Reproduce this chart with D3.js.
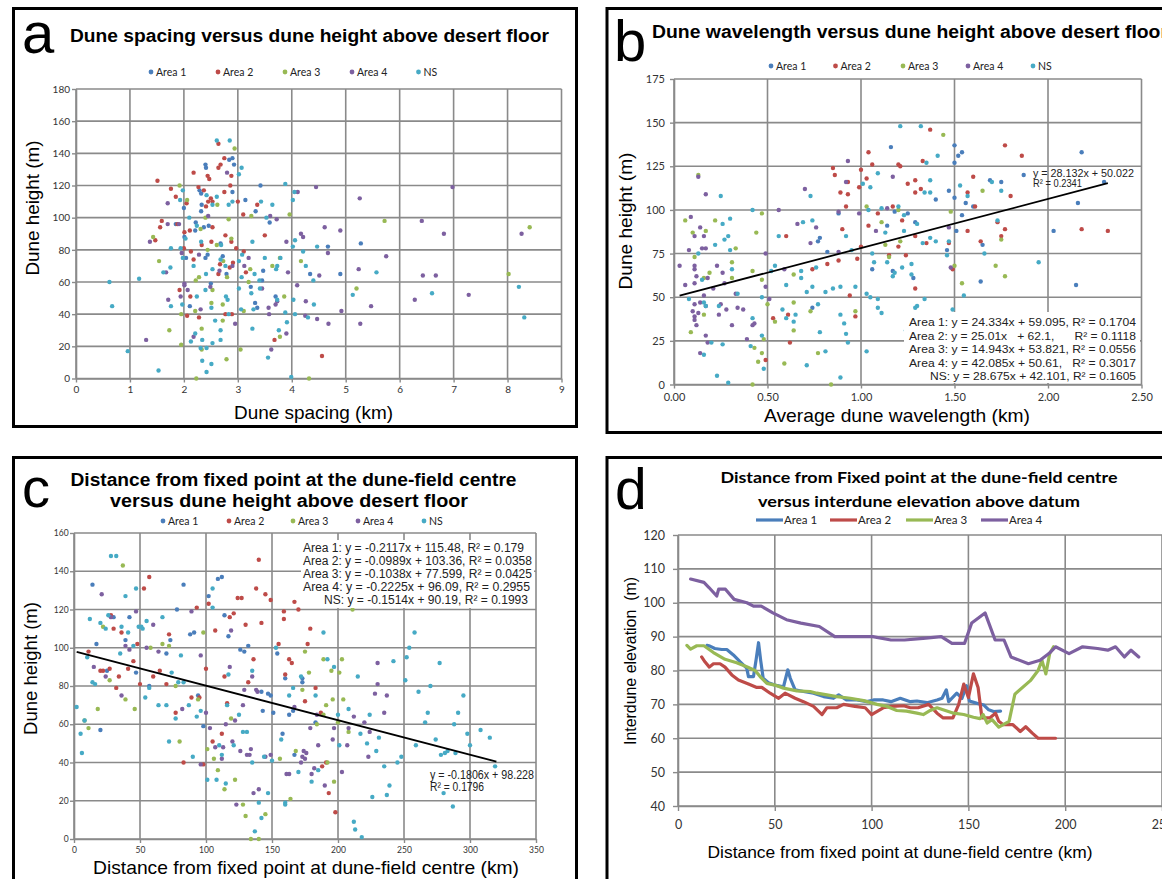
<!DOCTYPE html>
<html>
<head>
<meta charset="utf-8">
<script src="https://cdn.jsdelivr.net/npm/d3@7"></script>
<style>
body { margin: 0; background: #fff; }
svg { display: block; }
</style>
</head>
<body>
<svg id="fig" width="1162" height="879"></svg>
<script>
// series names + colours (Excel 2010 palette)
var seriesNames = ["Area 1", "Area 2", "Area 3", "Area 4", "NS"];
var seriesColors = ["#4a7ebb", "#be4b48", "#98b954", "#7d60a0", "#46aac5"];

// ---- panel a : dune spacing (km) vs dune height (m)
var aArea1 = [[2.90,137],[2.84,136],[2.40,133],[2.41,131],[2.93,133],[3.42,120],[2.29,117],[2.90,116],[2.32,115],[3.14,111],[2.33,108],[2.00,106],[3.33,104],[2.32,104],[1.85,96],[2.22,97],[2.01,88],[2.21,92],[2.37,94],[2.46,95],[2.44,77],[2.40,75],[2.04,75],[2.68,84],[2.72,76],[2.79,65],[3.47,67],[2.50,59],[2.11,45],[4.67,82],[5.28,84],[4.34,65],[4.90,65],[3.45,61],[3.24,57],[3.70,51],[3.32,47],[3.36,44],[3.59,97]];
var aArea2 = [[2.64,146],[2.75,137],[2.68,133],[2.64,131],[2.18,128],[2.44,126],[2.88,126],[2.47,124],[1.51,123],[2.86,120],[2.27,119],[1.76,118],[2.37,117],[2.75,116],[1.85,113],[2.50,112],[2.53,110],[2.45,110],[3.00,110],[2.05,109],[3.36,108],[2.41,107],[1.59,98],[1.56,94],[1.88,96],[1.47,86],[2.01,91],[2.11,92],[2.53,94],[3.10,102],[3.50,89],[2.00,81],[2.13,79],[2.33,83],[2.51,85],[2.77,89],[2.88,85],[2.97,81],[3.11,79],[2.67,71],[2.85,69],[2.91,72],[3.15,66],[2.64,65],[2.18,74],[1.92,55],[2.12,51],[2.06,39],[2.28,38],[2.77,40],[2.89,40],[3.68,24],[4.56,14]];
var aArea3 = [[2.94,143],[1.92,120],[2.06,111],[2.62,108],[1.43,88],[2.31,93],[3.25,101],[3.96,102],[5.72,98],[8.41,94],[2.44,80],[2.61,83],[2.88,87],[3.23,68],[2.28,63],[2.80,63],[3.64,70],[3.78,75],[3.20,60],[3.86,51],[3.11,42],[4.17,73],[5.20,56],[8.02,65],[3.78,26],[3.05,18],[2.79,12],[4.32,0],[2.23,0],[1.73,30],[1.95,21],[1.54,73],[1.95,40],[2.22,61],[2.21,42],[2.33,31],[2.33,18],[2.53,55],[2.51,47],[2.72,36],[2.72,46],[2.40,100],[2.83,99],[2.73,73]];
var aArea4 = [[2.80,128],[4.45,119],[6.98,119],[4.11,116],[5.26,112],[1.70,109],[1.70,96],[1.91,96],[1.37,85],[3.60,101],[3.72,99],[6.41,98],[6.82,90],[8.26,90],[4.90,92],[4.61,94],[4.17,90],[4.21,88],[3.90,85],[4.67,78],[5.75,76],[1.96,78],[2.28,77],[3.20,75],[2.90,70],[3.12,70],[2.66,67],[3.93,66],[4.10,58],[3.45,56],[4.26,48],[3.70,46],[3.73,48],[3.57,44],[3.58,40],[4.25,39],[4.47,37],[4.68,34],[4.51,64],[5.24,68],[5.47,45],[4.92,42],[5.27,34],[6.28,49],[6.43,64],[6.67,64],[7.28,52],[3.62,18],[3.90,28],[2.95,34],[1.30,24],[1.67,66],[1.71,49],[1.94,51],[2.01,59],[2.01,58],[2.07,55],[2.31,43],[2.18,26],[2.49,57],[2.45,101]];
var aNS = [[2.61,148],[2.85,148],[3.07,131],[3.02,127],[3.88,121],[1.98,117],[4.05,116],[2.42,114],[2.61,113],[1.93,111],[4.02,111],[2.90,110],[3.43,110],[2.53,108],[2.83,108],[3.64,108],[2.24,95],[2.10,100],[3.53,100],[2.03,87],[4.06,86],[3.27,85],[4.47,82],[4.02,82],[4.21,79],[1.94,81],[1.76,81],[1.98,75],[2.32,85],[2.69,83],[3.08,77],[2.68,74],[2.77,70],[3.02,73],[3.31,65],[2.53,68],[2.41,65],[3.73,70],[3.71,68],[3.79,75],[3.50,75],[3.40,61],[3.07,63],[3.41,56],[3.25,53],[3.73,49],[4.03,49],[4.41,46],[3.29,43],[3.06,43],[3.88,41],[4.06,40],[4.30,38],[3.91,35],[4.40,61],[4.26,70],[5.57,66],[5.13,52],[6.60,53],[8.21,57],[8.31,38],[3.56,13],[3.27,31],[3.76,30],[3.99,1],[0.62,60],[0.67,45],[1.17,62],[0.96,17],[1.53,5],[1.76,45],[1.75,69],[1.62,66],[1.97,46],[2.18,70],[2.24,51],[2.13,23],[2.21,28],[2.34,24],[2.31,19],[2.34,11],[2.42,19],[2.42,4],[2.51,9],[2.53,22],[2.40,55],[2.51,44],[2.58,36],[2.68,30],[2.68,24],[2.83,40],[2.81,49],[2.78,51],[3.02,56]];
var aXTicks = [0,1,2,3,4,5,6,7,8,9];
var aYTicks = [0,20,40,60,80,100,120,140,160,180];

// ---- panel b : average dune wavelength (km) vs dune height (m)
var bArea1 = [[1.16,136],[1.18,99],[1.25,98],[0.88,98],[1.40,106],[1.50,137],[1.52,131],[1.54,133],[1.50,127],[1.47,111],[1.50,107],[1.56,104],[1.60,102],[1.54,97],[1.69,117],[1.75,116],[1.87,120],[2.18,133],[2.30,116],[2.16,104],[0.77,82],[0.78,84],[0.74,44],[0.82,76],[1.06,66],[1.14,91],[1.17,65],[1.28,61],[1.29,93],[1.46,77],[1.51,88],[1.65,80],[1.64,59],[2.03,88],[2.15,57]];
var bArea2 = [[0.85,124],[0.86,120],[0.93,116],[0.89,110],[0.93,109],[0.92,102],[1.00,123],[1.04,133],[1.06,126],[1.03,118],[0.99,113],[1.20,126],[1.21,125],[1.37,146],[1.33,128],[1.29,117],[1.25,115],[1.29,110],[1.32,112],[1.09,98],[1.17,102],[1.57,110],[1.60,119],[1.61,102],[1.80,108],[1.77,137],[1.86,131],[0.49,14],[0.53,38],[0.60,85],[0.61,40],[0.62,24],[0.74,66],[0.82,69],[0.88,71],[0.90,89],[0.94,51],[0.97,39],[1.00,79],[0.98,72],[1.04,91],[1.15,74],[1.20,79],[1.22,94],[1.24,74],[1.29,55],[1.29,85],[1.35,81],[1.47,81],[1.49,66],[1.57,88],[1.64,82],[1.73,93],[1.75,85],[1.77,89],[2.18,89],[2.32,88]];
var bArea3 = [[0.13,120],[0.47,98],[1.44,143],[1.03,102],[1.20,100],[1.48,99],[1.65,111],[0.06,94],[0.09,30],[0.10,87],[0.11,73],[0.17,88],[0.16,40],[0.16,61],[0.19,64],[0.22,94],[0.31,70],[0.31,61],[0.33,78],[0.42,65],[0.44,87],[0.43,21],[0.42,0],[0.47,18],[0.45,13],[0.48,26],[0.47,60],[0.50,46],[0.54,36],[0.59,12],[0.64,63],[0.64,47],[0.64,31],[0.73,42],[0.77,18],[0.84,0],[0.97,42],[1.11,93],[1.13,80],[1.15,73],[1.21,82],[1.50,68],[1.54,58],[1.72,68],[1.75,83],[1.77,62]];
var bArea4 = [[0.13,119],[0.17,109],[0.70,112],[0.56,100],[0.93,128],[0.92,116],[0.88,99],[1.17,119],[1.14,101],[0.99,98],[0.03,68],[0.06,57],[0.09,96],[0.08,77],[0.11,85],[0.11,68],[0.11,66],[0.12,62],[0.11,58],[0.11,46],[0.10,42],[0.11,39],[0.11,37],[0.12,34],[0.13,41],[0.14,90],[0.15,78],[0.17,78],[0.16,85],[0.14,47],[0.16,51],[0.14,18],[0.17,28],[0.18,24],[0.17,45],[0.18,61],[0.21,55],[0.23,68],[0.26,64],[0.25,46],[0.24,40],[0.28,43],[0.27,58],[0.31,34],[0.33,52],[0.34,44],[0.37,43],[0.39,26],[0.42,34],[0.43,35],[0.49,75],[0.49,56],[0.51,49],[0.59,66],[0.66,92],[0.73,81],[0.76,90],[0.88,76],[1.08,88],[1.47,90],[1.48,67]];
var bNS = [[0.25,108],[0.73,108],[0.42,100],[1.01,115],[1.05,113],[1.09,121],[1.21,148],[1.32,148],[1.41,131],[1.35,127],[1.37,117],[1.34,110],[1.37,110],[1.04,100],[1.11,101],[1.20,102],[1.23,97],[1.53,114],[1.57,108],[1.70,116],[1.75,111],[0.08,49],[0.13,75],[0.16,17],[0.16,47],[0.17,45],[0.20,24],[0.15,60],[0.22,80],[0.26,92],[0.27,83],[0.24,45],[0.26,23],[0.23,5],[0.29,1],[0.31,66],[0.29,85],[0.30,77],[0.30,95],[0.34,52],[0.41,22],[0.42,38],[0.47,50],[0.47,28],[0.48,9],[0.52,65],[0.54,68],[0.56,85],[0.58,43],[0.60,57],[0.60,38],[0.69,93],[0.68,65],[0.68,61],[0.71,53],[0.65,40],[0.64,36],[0.74,94],[0.76,67],[0.77,46],[0.74,56],[0.71,11],[0.78,30],[0.81,19],[0.81,53],[0.85,55],[0.89,56],[0.89,4],[0.89,40],[0.91,35],[0.92,29],[0.93,24],[0.92,85],[0.97,56],[0.95,77],[1.03,19],[1.05,50],[1.03,52],[1.07,70],[1.06,75],[1.09,44],[1.11,41],[1.09,49],[1.13,87],[1.14,70],[1.17,62],[1.18,64],[1.23,88],[1.22,67],[1.24,31],[1.29,44],[1.30,45],[1.27,69],[1.27,63],[1.30,92],[1.34,49],[1.33,81],[1.37,84],[1.40,82],[1.46,74],[1.47,82],[1.49,43],[1.55,51],[1.66,75],[1.73,94],[1.95,70]];
var bXTicks = [0,0.5,1,1.5,2,2.5];
var bYTicks = [0,25,50,75,100,125,150,175];
var bTrend = {slope: 28.132, icept: 50.022, from: 0.03, to: 2.32};
var bEquations = ["Area 1: y = 24.334x + 59.095, R\u00b2 = 0.1704",
                  "Area 2: y = 25.01x   + 62.1,      R\u00b2 = 0.1118",
                  "Area 3: y = 14.943x + 53.821, R\u00b2 = 0.0556",
                  "Area 4: y = 42.085x + 50.61,   R\u00b2 = 0.3017",
                  "NS: y = 28.675x + 42.101, R\u00b2 = 0.1605"];

// ---- panel c : distance from dune-field centre (km) vs dune height (m)
var cArea1 = [[14,133],[17,102],[30,116],[42,116],[39,104],[78,120],[83,133],[73,104],[70,97],[88,107],[91,108],[102,127],[109,136],[112,137],[114,117],[117,106],[126,99],[129,98],[132,101],[154,97],[20,57],[25,88],[47,87],[57,80],[94,75],[98,59],[142,77],[143,67],[147,76],[149,75],[151,66],[158,55],[160,84],[163,65],[166,67],[167,44],[173,84],[173,82],[183,61]];
var cArea2 = [[53,131],[57,137],[28,117],[30,110],[36,108],[48,102],[72,107],[93,121],[11,98],[45,93],[102,123],[107,109],[118,116],[121,118],[124,126],[127,126],[130,112],[138,131],[140,146],[142,113],[145,128],[149,125],[155,102],[159,115],[159,119],[167,124],[170,120],[179,110],[177,102],[163,94],[165,92],[136,94],[20,88],[22,88],[27,89],[32,79],[34,85],[41,89],[50,81],[60,85],[65,88],[70,81],[77,66],[83,40],[89,74],[95,74],[98,39],[100,89],[105,51],[112,55],[114,85],[116,71],[132,82],[160,86],[175,72],[183,79],[187,66],[188,38],[191,40],[193,24],[198,14]];
var cArea3 = [[37,143],[22,111],[58,100],[67,102],[72,101],[98,108],[175,98],[189,94],[203,94],[211,120],[8,62],[11,58],[18,68],[27,83],[39,73],[46,68],[77,80],[80,51],[94,73],[101,47],[106,42],[109,36],[114,26],[119,63],[122,31],[128,18],[130,12],[134,0],[140,0],[145,13],[156,42],[164,21],[168,46],[173,78],[178,87],[184,60],[189,65],[191,70],[192,40],[195,88],[196,73],[197,30],[200,61],[201,87],[204,73],[208,56]];
var cArea4 = [[21,128],[28,116],[47,119],[60,112],[39,101],[55,100],[42,99],[64,98],[89,119],[96,96],[119,109],[15,90],[24,85],[36,75],[82,68],[96,39],[100,66],[103,58],[107,48],[112,42],[113,48],[115,60],[118,90],[120,51],[122,62],[123,18],[126,46],[128,70],[129,78],[131,44],[133,44],[134,47],[135,85],[136,24],[138,78],[139,77],[140,26],[145,43],[149,44],[161,34],[163,34],[167,69],[172,40],[173,43],[174,46],[176,45],[175,42],[179,58],[180,34],[184,65],[182,37],[185,49],[190,28],[196,52],[197,58],[203,35],[207,49],[208,58],[212,64],[220,61],[223,43],[224,56],[228,76],[230,81],[235,66],[237,75],[230,92]];
var cNS = [[28,148],[32,148],[39,127],[47,131],[12,115],[26,117],[20,113],[24,110],[36,111],[41,108],[49,111],[51,111],[52,110],[55,114],[67,116],[45,101],[81,96],[10,95],[35,97],[105,121],[105,131],[153,100],[189,108],[192,94],[242,93],[252,95],[254,100],[258,108],[277,92],[2,69],[5,55],[6,45],[8,62],[14,82],[16,81],[54,74],[57,79],[64,70],[70,70],[72,51],[74,87],[77,63],[79,82],[83,82],[87,70],[90,43],[93,64],[96,67],[101,31],[108,31],[110,49],[112,44],[115,29],[116,70],[117,86],[121,49],[125,65],[128,56],[131,56],[135,40],[135,88],[137,4],[140,19],[142,11],[144,43],[147,24],[150,41],[157,52],[160,19],[160,18],[163,75],[166,79],[170,35],[172,85],[180,30],[183,75],[185,36],[197,90],[200,65],[201,49],[208,68],[212,9],[213,5],[215,85],[217,55],[218,1],[222,50],[224,65],[226,22],[229,46],[231,53],[235,38],[237,23],[239,28],[245,40],[248,43],[251,83],[259,49],[261,77],[266,61],[268,66],[270,80],[274,52],[278,44],[280,24],[281,45],[283,46],[287,17],[288,60],[289,45],[291,66],[295,75],[298,55],[300,49],[308,57],[315,53],[319,38]];
var cXTicks = [0,50,100,150,200,250,300,350];
var cYTicks = [0,20,40,60,80,100,120,140,160];
var cTrend = {slope: -0.1806, icept: 98.228, from: 2, to: 320};
var cEquations = ["Area 1: y = -0.2117x + 115.48, R\u00b2 = 0.179",
                  "Area 2: y = -0.0989x + 103.36, R\u00b2 = 0.0358",
                  "Area 3: y = -0.1038x + 77.599, R\u00b2 = 0.0425",
                  "Area 4: y = -0.2225x + 96.09, R\u00b2 = 0.2955",
                  "NS: y = -0.1514x + 90.19, R\u00b2 = 0.1993"];

// ---- panel d : distance (km) vs interdune elevation (m)
var dArea1 = [[15,87.4],[16.5,87.2],[19,86.5],[22.6,86.2],[25.2,86.2],[28.6,84.6],[32,82.6],[35.5,80.7],[36.4,78.2],[39,78.2],[40.3,83],[41.6,88.2],[42.7,83],[44,77.7],[46.7,76.4],[50,75.7],[54.5,75.2],[56.7,80.2],[58,77.7],[60.5,74.3],[64.8,73.8],[70,73.3],[75.2,72.3],[80.3,71.8],[83,72.8],[87,71.3],[92.4,71.3],[97.6,70.8],[101,71.3],[106,71.3],[110,70.8],[114.8,71.8],[120,70.8],[123.4,71],[128.6,70.5],[133.8,71.3],[136.4,71.8],[138.6,74.3],[139.8,70.8],[144,73.3],[146.7,71.8],[149,75.5],[150.5,71],[154.5,70.3],[158,69.8],[160.5,68.4],[163,67.9],[166.6,68]];
var dArea2 = [[12.2,84],[14,82.5],[16.2,81],[18.3,82],[21.7,82],[24.3,81],[27.8,78.7],[31.2,77.2],[36.4,76],[40.7,75],[43.3,75],[47.6,73.3],[52,71.8],[55.3,73.3],[60.5,71.8],[64.8,70.8],[70,69.4],[74.4,67],[76.9,69],[82,69],[85.5,70],[91.4,69.4],[96.7,69],[100,67],[106,69],[110.5,69.4],[116.6,69.6],[120,69],[124,69],[129.5,70],[133.8,67.4],[137,66],[142,66],[145,70],[147.6,76],[150,72],[152.6,79],[155,75],[157,66],[161,66],[164,67.4],[165.7,65],[168,64],[173,64],[176.8,62],[179.6,63.4],[183,61.5],[186,60],[195,60]];
var dArea3 = [[4.6,87.4],[6.5,86.3],[9.7,87.3],[13.4,87.3],[18.3,85.3],[24.3,83.3],[30.3,82.3],[35.5,81.1],[39.8,80],[42.4,78.2],[45.9,76.2],[50,75.7],[54.5,74.8],[61.4,74],[68.3,73.8],[71.7,73.3],[76.9,72.8],[82,72.3],[89,71.8],[95.9,71.1],[102.8,70],[108,69.4],[113,68.2],[118,68],[123.4,67.4],[126.7,67],[130.3,68.2],[133.8,69],[142.4,67.4],[147.6,67],[152.6,66.2],[156,65.8],[157.6,67],[159.7,64.5],[162.2,65.5],[165.7,63.3],[171,65],[174,73],[182,77],[186,80],[188,83],[190,79],[192,85],[194,87]];
var dArea4 = [[6.5,107],[13.4,106],[16,104.5],[20,102],[21,104],[24.5,104],[29,101],[35.6,100],[39,99],[43,99],[49,97],[56,95],[63.5,94],[73,93],[81,90],[89.5,90],[100.6,90],[110,89],[117,89],[126.6,89.5],[136,90],[141.5,88],[148,88],[151.7,94],[158.6,97],[163.8,89],[168.4,89],[172,84],[181,82],[187,83],[191.6,85],[195,87],[202,85],[209,87],[216.7,86.5],[222,86],[226,87],[230.6,84],[234,86],[238,84]];
var dXTicks = [0,50,100,150,200,250];
var dYTicks = [40,50,60,70,80,90,100,110,120];

var GRID = "#8a8a8a";
var ARIAL = "'Liberation Sans', Arial, sans-serif";
var CAL = "Lato, 'Open Sans', sans-serif";

var svg = d3.select("#fig");
svg.append("rect").attr("width", 1162).attr("height", 879).attr("fill", "#fff");

function txt(s, x, y, size, opts) {
  opts = opts || {};
  var t = svg.append("text")
      .attr("x", x).attr("y", y)
      .attr("font-family", opts.family || ARIAL)
      .attr("font-size", size)
      .attr("font-weight", opts.bold ? "bold" : "normal")
      .attr("text-anchor", opts.anchor || "start")
      .attr("fill", opts.fill || "#000")
      .style("white-space", "pre")
      .text(s);
  if (opts.len) t.attr("textLength", opts.len).attr("lengthAdjust", "spacingAndGlyphs");
  if (opts.rot) t.attr("transform", "rotate(-90," + x + "," + y + ")");
  return t;
}

function styleAxis(sel, size, family) {
  sel.select(".domain").attr("stroke", GRID).attr("stroke-width", 1.6);
  sel.selectAll(".tick line").attr("stroke", GRID).attr("stroke-width", 1.4);
  sel.selectAll("text").attr("font-size", size).attr("font-family", family).attr("fill", "#333");
}

function plotPanel(p) {
  var x = d3.scaleLinear().domain(p.xDom).range([p.l, p.r]);
  var y = d3.scaleLinear().domain(p.yDom).range([p.b, p.t]);
  var g = svg.append("g");

  g.append("g").selectAll("line").data(p.xTicks).join("line")
      .attr("x1", d => x(d)).attr("x2", d => x(d))
      .attr("y1", p.t).attr("y2", p.b)
      .attr("stroke", GRID).attr("stroke-width", 1.6);
  g.append("g").selectAll("line").data(p.yTicks).join("line")
      .attr("x1", p.l).attr("x2", p.r)
      .attr("y1", d => y(d)).attr("y2", d => y(d))
      .attr("stroke", GRID).attr("stroke-width", 1.6);

  var xa = g.append("g").attr("transform", "translate(0," + p.b + ")")
      .call(d3.axisBottom(x).tickValues(p.xTicks).tickFormat(p.xFmt)
        .tickSize(p.tick).tickSizeOuter(0).tickPadding(p.xPad));
  styleAxis(xa, p.fs, CAL);
  var ya = g.append("g").attr("transform", "translate(" + p.l + ",0)")
      .call(d3.axisLeft(y).tickValues(p.yTicks).tickFormat(d3.format("d"))
        .tickSize(p.tick).tickSizeOuter(0).tickPadding(p.yPad));
  styleAxis(ya, p.fs, CAL);
  return {x: x, y: y, g: g};
}

function drawPoints(pl, list) {
  list.forEach(function(s, i) {
    pl.g.append("g").selectAll("circle").data(s).join("circle")
        .attr("cx", d => pl.x(d[0])).attr("cy", d => pl.y(d[1]))
        .attr("r", 2.2).attr("fill", seriesColors[i]);
  });
}

function dotLegend(xs, y, size) {
  seriesNames.forEach(function(n, i) {
    svg.append("circle").attr("cx", xs[i]).attr("cy", y).attr("r", 2.4).attr("fill", seriesColors[i]);
    txt(n, xs[i] + 5, y + 3.7, size, {family: CAL, fill: "#222"});
  });
}

function trend(pl, t) {
  var line = d3.line().x(d => pl.x(d)).y(d => pl.y(t.slope * d + t.icept));
  pl.g.append("path").attr("d", line([t.from, t.to]))
      .attr("fill", "none").attr("stroke", "#000").attr("stroke-width", 1.8);
}

function frame(x, y, w, h) {
  svg.append("rect").attr("x", x).attr("y", y).attr("width", w).attr("height", h)
      .attr("fill", "none").attr("stroke", "#000").attr("stroke-width", 3);
}

// ================= panel a
var pa = plotPanel({xDom: [0, 9], yDom: [0, 180], l: 76, r: 561.5, t: 89, b: 378.5,
  xTicks: aXTicks, yTicks: aYTicks, xFmt: d3.format("d"), tick: 4, xPad: 3.4, yPad: 2, fs: 10});
drawPoints(pa, [aArea1, aArea2, aArea3, aArea4, aNS]);
dotLegend([151, 218, 285, 352, 418.5], 72, 10.5);
txt("a", 22, 53, 58);
txt("Dune spacing versus dune height above desert floor", 70, 42, 18, {bold: true, len: 479});
txt("Dune spacing (km)", 313.5, 419, 18.5, {anchor: "middle", len: 159});
txt("Dune height (m)", 39, 208, 18.5, {anchor: "middle", rot: true, len: 135});
frame(13.5, 8.5, 563, 418);

// ================= panel b
var pb = plotPanel({xDom: [0, 2.5], yDom: [0, 175], l: 674, r: 1141.5, t: 79, b: 384.5,
  xTicks: bXTicks, yTicks: bYTicks, xFmt: d3.format(".2f"), tick: 4, xPad: 4.7, yPad: 5, fs: 11});
drawPoints(pb, [bArea1, bArea2, bArea3, bArea4, bNS]);
trend(pb, bTrend);
svg.append("rect").attr("x", 904).attr("y", 312).attr("width", 236).attr("height", 71).attr("fill", "#fff");
bEquations.forEach(function(s, i) {
  var ns = i === 4;
  txt(s, ns ? 930 : 909, 326 + i * 13.6, 11.5, {len: ns ? 206 : 227, fill: "#222"});
});
txt("y = 28.132x + 50.022", 1033, 177, 11, {len: 101, fill: "#222"});
txt("R\u00b2 = 0.2341", 1033, 187, 11, {len: 49, fill: "#222"});
dotLegend([771, 835.5, 903, 968, 1033], 66, 10.5);
txt("b", 614, 61, 58);
txt("Dune wavelength versus dune height above desert floor", 652, 38, 17.5, {bold: true, len: 516});
txt("Average dune wavelength (km)", 897, 422, 19, {anchor: "middle", len: 266});
txt("Dune height (m)", 632, 221, 18.5, {anchor: "middle", rot: true, len: 137});
frame(607, 8.5, 600, 424);

// ================= panel c
var pc = plotPanel({xDom: [0, 350], yDom: [0, 160], l: 74, r: 536, t: 533, b: 839,
  xTicks: cXTicks, yTicks: cYTicks, xFmt: d3.format("d"), tick: 4, xPad: 4, yPad: 1.4, fs: 8.5});
drawPoints(pc, [cArea1, cArea2, cArea3, cArea4, cNS]);
trend(pc, cTrend);
svg.append("rect").attr("x", 301).attr("y", 540).attr("width", 233).attr("height", 68).attr("fill", "#fff");
var cLens = [221, 229, 229, 227, 204];
cEquations.forEach(function(s, i) {
  txt(s, i === 4 ? 324 : 303, 552 + i * 13.1, 12, {len: cLens[i], fill: "#222"});
});
txt("y = -0.1806x + 98.228", 430, 779, 12, {len: 104, fill: "#222"});
txt("R\u00b2 = 0.1796", 430, 791, 12, {len: 54, fill: "#222"});
dotLegend([163, 229, 293, 358, 424], 521, 10.5);
txt("c", 22, 507, 56);
txt("Distance from fixed point at the dune-field centre", 293.5, 486, 18, {bold: true, anchor: "middle", len: 446});
txt("versus dune height above desert floor", 289, 507, 18, {bold: true, anchor: "middle", len: 358});
txt("Distance from fixed point at dune-field centre (km)", 306, 874, 18.5, {anchor: "middle", len: 426});
txt("Dune height (m)", 37, 668.5, 18.5, {anchor: "middle", rot: true, len: 133});
frame(13.5, 457.5, 563, 460);

// ================= panel d
var pd = plotPanel({xDom: [0, 250], yDom: [40, 120], l: 678, r: 1162, t: 535, b: 806,
  xTicks: dXTicks, yTicks: dYTicks, xFmt: d3.format("d"), tick: 5, xPad: 9, yPad: 8, fs: 12.5});
var dLine = d3.line().x(d => pd.x(d[0])).y(d => pd.y(d[1]));
[dArea1, dArea2, dArea3, dArea4].forEach(function(s, i) {
  pd.g.append("path").attr("d", dLine(s)).attr("fill", "none")
      .attr("stroke", seriesColors[i]).attr("stroke-width", 3.2)
      .attr("stroke-linejoin", "round").attr("stroke-linecap", "round");
});
[756, 830, 906, 981].forEach(function(lx, i) {
  svg.append("line").attr("x1", lx).attr("x2", lx + 27).attr("y1", 520).attr("y2", 520)
      .attr("stroke", seriesColors[i]).attr("stroke-width", 3.2);
  txt(seriesNames[i], lx + 28, 524, 11.5, {family: CAL, fill: "#222"});
});
txt("d", 615, 509, 57);
txt("Distance from Fixed point at the dune-field centre", 919, 483, 15, {bold: true, family: CAL, anchor: "middle", len: 397});
txt("versus interdune elevation above datum", 919, 507, 15, {bold: true, family: CAL, anchor: "middle", len: 322});
txt("Distance from fixed point at dune-field centre (km)", 900, 858, 16.5, {anchor: "middle", len: 385});
txt("Interdune elevation  (m)", 636, 661, 16, {anchor: "middle", rot: true, len: 168});
frame(607, 457.5, 600, 460);
</script>
</body>
</html>
